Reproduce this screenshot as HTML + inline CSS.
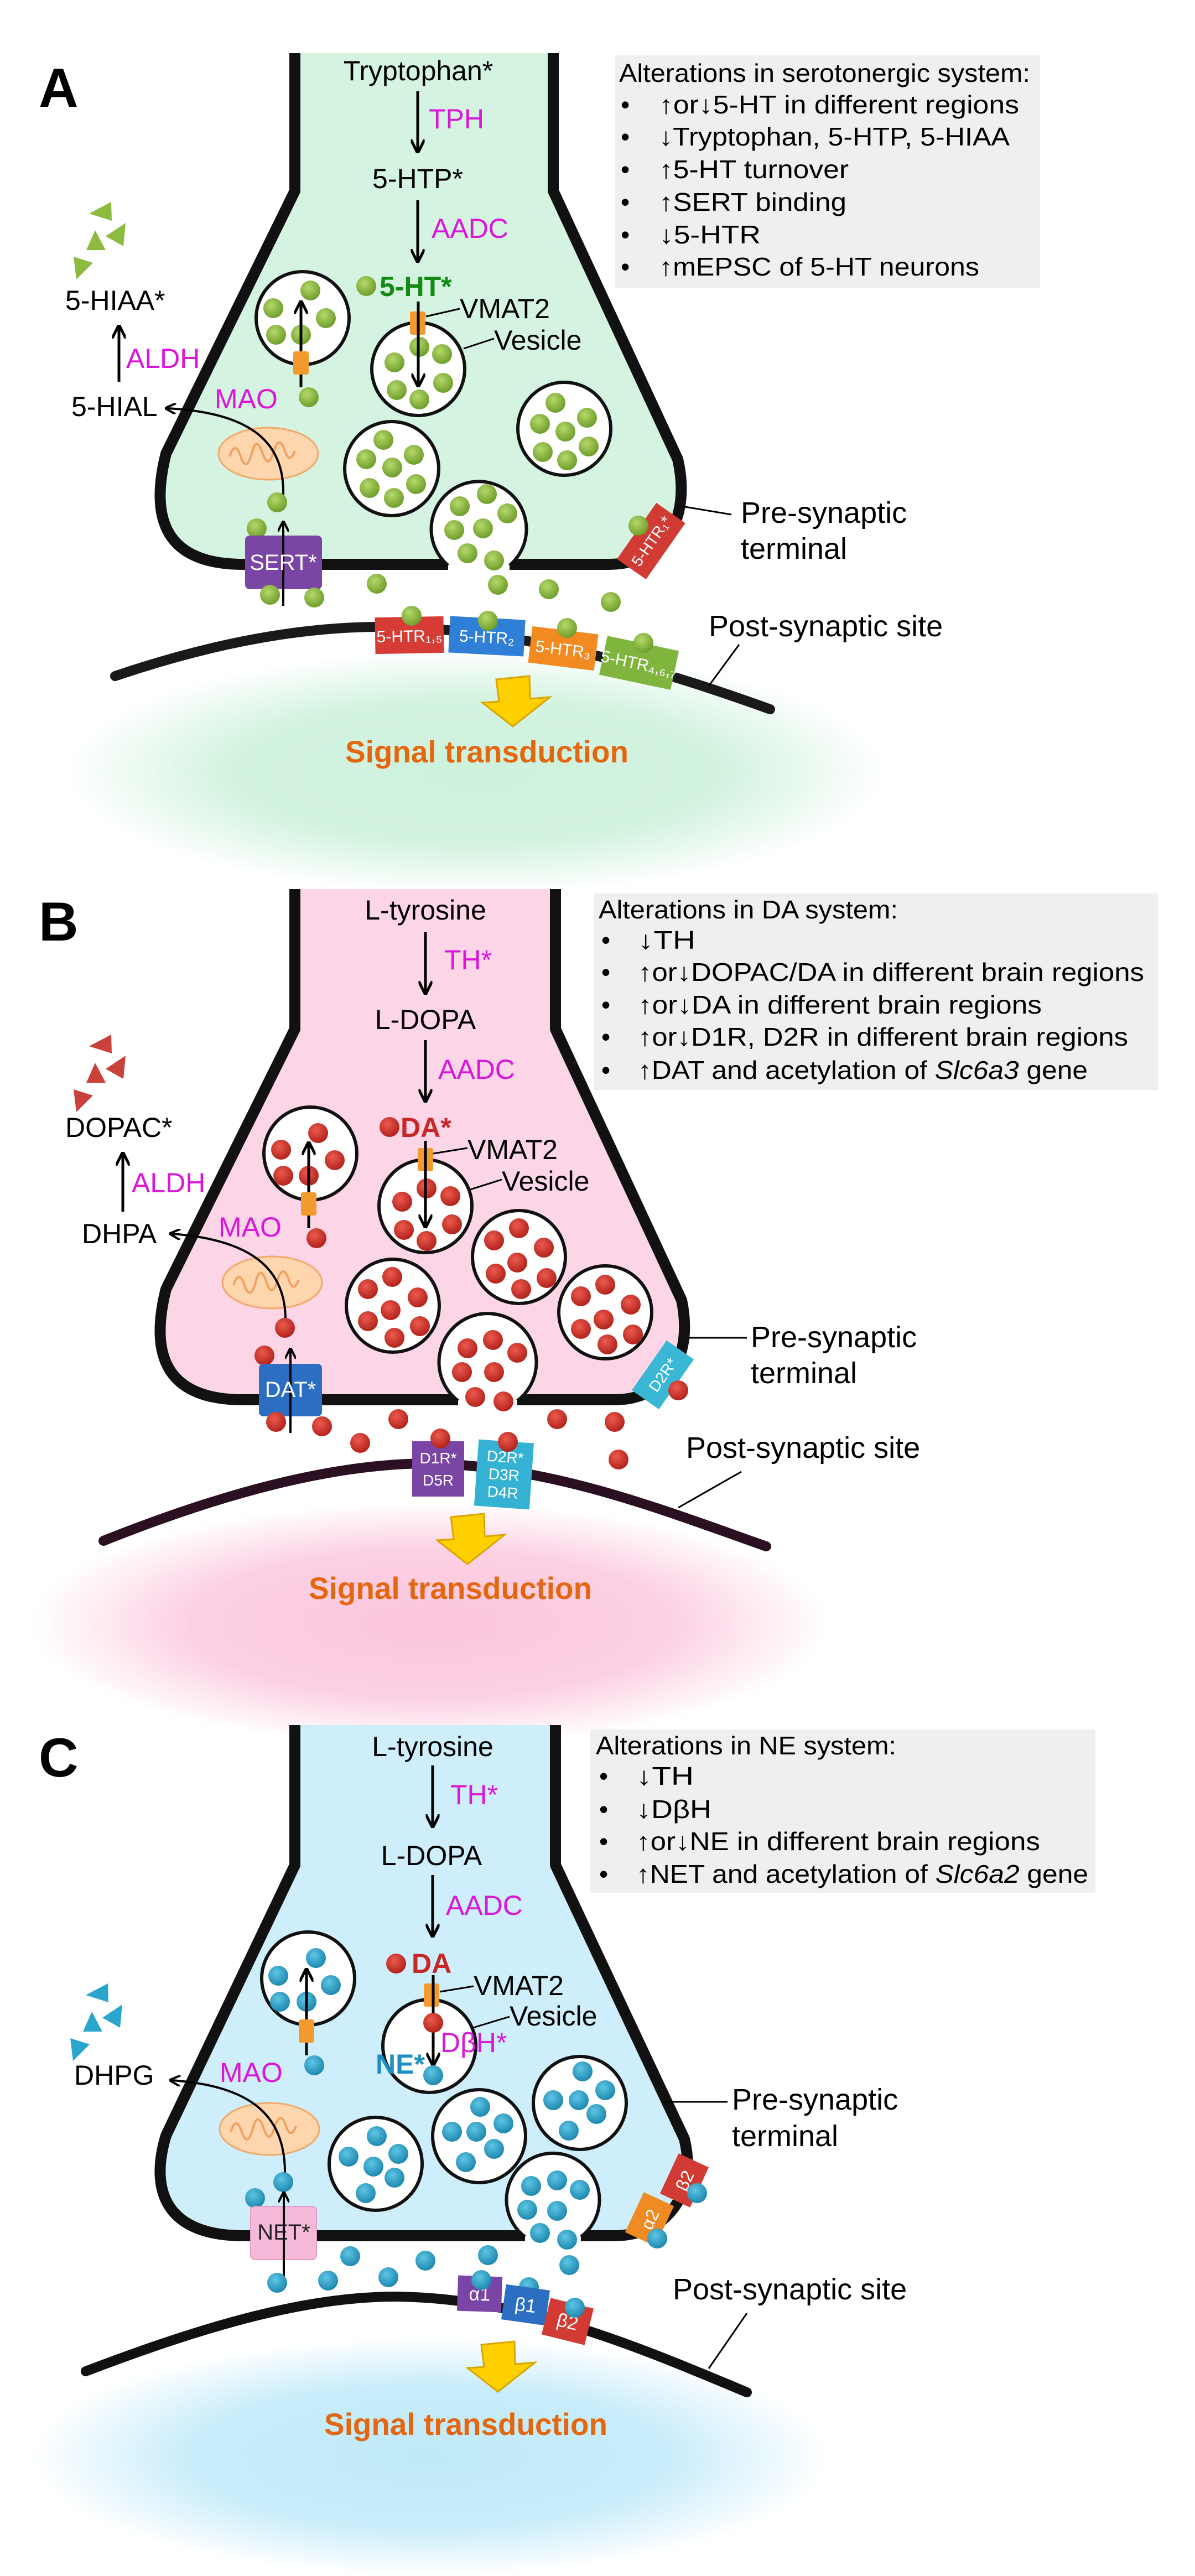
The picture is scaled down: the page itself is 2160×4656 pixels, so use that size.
<!DOCTYPE html>
<html><head><meta charset="utf-8"><style>
html,body{margin:0;padding:0;background:#fff;}
svg{display:block;}
text{font-family:"Liberation Sans",Arial,sans-serif;}
</style></head><body>
<svg width="2160" height="4656" viewBox="0 0 2160 4656" xmlns="http://www.w3.org/2000/svg">
<defs>
<radialGradient id="gd" cx="40%" cy="35%" r="65%"><stop offset="0" stop-color="#b5d96a"/><stop offset="1" stop-color="#6f9e2c"/></radialGradient>
<radialGradient id="rd" cx="40%" cy="35%" r="65%"><stop offset="0" stop-color="#ec5a4e"/><stop offset="1" stop-color="#b3231c"/></radialGradient>
<radialGradient id="bd" cx="40%" cy="35%" r="65%"><stop offset="0" stop-color="#5ec5e4"/><stop offset="1" stop-color="#1e89b0"/></radialGradient>
<radialGradient id="glowG"><stop offset="0" stop-color="#cdf1dc"/><stop offset="0.6" stop-color="#d3f3e0"/><stop offset="1" stop-color="#d3f3e0" stop-opacity="0"/></radialGradient>
<radialGradient id="glowP"><stop offset="0" stop-color="#fbc6dd"/><stop offset="0.6" stop-color="#fcd0e3"/><stop offset="1" stop-color="#fcd0e3" stop-opacity="0"/></radialGradient>
<radialGradient id="glowB"><stop offset="0" stop-color="#bfe9f8"/><stop offset="0.6" stop-color="#c9edfa"/><stop offset="1" stop-color="#c9edfa" stop-opacity="0"/></radialGradient>
<marker id="ah" viewBox="0 0 10 10" refX="8" refY="5" markerWidth="5" markerHeight="5" orient="auto-start-reverse"><path d="M0,0 L10,5 L0,10" fill="none" stroke="#000" stroke-width="2"/></marker>
<g id="g"><circle r="18" fill="url(#gd)"/></g>
<g id="r"><circle r="18" fill="url(#rd)"/></g>
<g id="b"><circle r="18" fill="url(#bd)"/></g>
<g id="mito"><ellipse rx="90" ry="47" fill="#fdd6ae" stroke="#f3a868" stroke-width="3"/><path d="M-70,5 q10,-30 20,0 q10,30 20,-5 q8,-35 20,0 q10,30 20,-5 q10,-30 20,0 q8,25 18,0" fill="none" stroke="#f0a060" stroke-width="4"/></g>
<g id="yarrow"><polygon points="25,0 85,-6 86,35 122,32 55,85 0,42 30,40" fill="#ffd000" stroke="#d9a400" stroke-width="3"/></g>
</defs>

<!-- ================= PANEL A ================= -->
<ellipse cx="860" cy="1395" rx="740" ry="220" fill="url(#glowG)"/>
<path d="M533,96 L533,345 L300,820 C270,940 300,1020 440,1020 L1100,1020 C1200,1020 1250,940 1225,830 L1000,345 L1000,96 Z" fill="#d5f3e1"/>
<path d="M533,96 L533,345 L300,820 C270,940 300,1020 440,1020 L810,1020 M921,1020 L1100,1020 C1200,1020 1250,940 1225,830 L1000,345 L1000,96" fill="none" stroke="#111" stroke-width="20" stroke-linejoin="round"/>
<text x="70" y="193" font-size="99" font-weight="bold">A</text>
<text x="756" y="145" font-size="50" text-anchor="middle">Tryptophan*</text>
<line x1="755" y1="165" x2="755" y2="272" stroke="#000" stroke-width="5" marker-end="url(#ah)"/>
<text x="775" y="232" font-size="50" fill="#d916d9">TPH</text>
<text x="755" y="340" font-size="50" text-anchor="middle">5-HTP*</text>
<line x1="755" y1="362" x2="755" y2="470" stroke="#000" stroke-width="5" marker-end="url(#ah)"/>
<text x="780" y="430" font-size="50" fill="#d916d9">AADC</text>
<use href="#g" x="662" y="517"/>
<text x="686" y="535" font-size="50" font-weight="bold" fill="#138a13">5-HT*</text>
<!-- vesicles -->
<circle cx="547" cy="575" r="84" fill="#fff" stroke="#111" stroke-width="6"/>
<circle cx="756" cy="667" r="84" fill="#fff" stroke="#111" stroke-width="6"/>
<circle cx="708" cy="847" r="85" fill="#fff" stroke="#111" stroke-width="6"/>
<circle cx="1020" cy="775" r="84" fill="#fff" stroke="#111" stroke-width="6"/>
<path d="M810,1022 A86,86 0 1 1 921,1022" fill="#fff" stroke="#111" stroke-width="6"/>
<use href="#g" x="561" y="525"/><use href="#g" x="494" y="557"/><use href="#g" x="589" y="575"/><use href="#g" x="499" y="605"/><use href="#g" x="544" y="605"/>
<line x1="544" y1="700" x2="544" y2="548" stroke="#000" stroke-width="5" marker-end="url(#ah)"/>
<rect x="530" y="635" width="28" height="42" rx="4" fill="#f39a2e"/>
<use href="#g" x="558" y="718"/>
<rect x="741" y="563" width="28" height="42" rx="4" fill="#f39a2e"/>
<use href="#g" x="758" y="627"/><use href="#g" x="713" y="655"/><use href="#g" x="799" y="640"/><use href="#g" x="717" y="705"/><use href="#g" x="758" y="722"/><use href="#g" x="801" y="692"/>
<line x1="756" y1="545" x2="756" y2="695" stroke="#000" stroke-width="5" marker-end="url(#ah)"/>
<line x1="770" y1="572" x2="831" y2="558" stroke="#000" stroke-width="3"/>
<line x1="838" y1="630" x2="893" y2="612" stroke="#000" stroke-width="3"/>
<text x="831" y="575" font-size="50">VMAT2</text>
<text x="893" y="632" font-size="50">Vesicle</text>
<use href="#g" x="693" y="795"/><use href="#g" x="662" y="830"/><use href="#g" x="748" y="822"/><use href="#g" x="709" y="845"/><use href="#g" x="668" y="882"/><use href="#g" x="752" y="875"/><use href="#g" x="712" y="900"/>
<use href="#g" x="1004" y="728"/><use href="#g" x="976" y="766"/><use href="#g" x="1061" y="755"/><use href="#g" x="1022" y="780"/><use href="#g" x="981" y="817"/><use href="#g" x="1064" y="807"/><use href="#g" x="1025" y="832"/>
<use href="#g" x="831" y="915"/><use href="#g" x="880" y="893"/><use href="#g" x="917" y="928"/><use href="#g" x="821" y="958"/><use href="#g" x="873" y="955"/><use href="#g" x="845" y="1000"/><use href="#g" x="893" y="1013"/>
<!-- left metabolism -->
<polygon points="161,386 201,365 202,399" fill="#8dbb3f"/><polygon points="156,452 172,416 191,452" fill="#8dbb3f"/><polygon points="191,427 227,403 223,445" fill="#8dbb3f"/><polygon points="133,464 168,475 138,505" fill="#8dbb3f"/>
<text x="118" y="560" font-size="50">5-HIAA*</text>
<line x1="215" y1="690" x2="215" y2="592" stroke="#000" stroke-width="5" marker-end="url(#ah)"/>
<text x="228" y="665" font-size="50" fill="#d916d9">ALDH</text>
<text x="129" y="752" font-size="50">5-HIAL</text>
<text x="388" y="738" font-size="50" fill="#d916d9">MAO</text>
<use href="#mito" x="485" y="820"/>
<path d="M512,895 C515,790 440,745 302,738" fill="none" stroke="#000" stroke-width="4" marker-end="url(#ah)"/>
<use href="#g" x="501" y="908"/><use href="#g" x="464" y="955"/>
<rect x="443" y="968" width="139" height="97" rx="8" fill="#7b45a6"/>
<line x1="512" y1="1095" x2="512" y2="945" stroke="#000" stroke-width="4" marker-end="url(#ah)"/>
<text x="512" y="1030" font-size="40" fill="#fff" text-anchor="middle">SERT*</text>
<use href="#g" x="488" y="1075"/><use href="#g" x="568" y="1080"/>
<use href="#g" x="681" y="1055"/><use href="#g" x="900" y="1057"/><use href="#g" x="992" y="1065"/><use href="#g" x="1104" y="1088"/>
<!-- presyn receptor -->
<g transform="translate(1177,978) rotate(-55)"><rect x="-62" y="-32" width="124" height="64" fill="#d13b33"/><text x="0" y="10" font-size="28" fill="#fff" text-anchor="middle">5-HTR₁*</text></g>
<use href="#g" x="1154" y="950"/>
<line x1="1232" y1="915" x2="1322" y2="930" stroke="#000" stroke-width="3"/>
<text x="1339" y="945" font-size="54">Pre-synaptic</text>
<text x="1339" y="1010" font-size="54">terminal</text>
<!-- post-synaptic -->
<path d="M208,1222 C420,1150 600,1125 760,1135 C1000,1150 1220,1220 1392,1282" fill="none" stroke="#1a1a1a" stroke-width="18" stroke-linecap="round"/>
<g transform="translate(740,1148) rotate(-1)"><rect x="-62" y="-33" width="124" height="66" fill="#d63b35"/><text x="0" y="12" font-size="30" fill="#fff" text-anchor="middle">5-HTR₁,₅</text></g>
<g transform="translate(880,1150) rotate(3)"><rect x="-68" y="-33" width="136" height="66" fill="#2f7fd6"/><text x="0" y="12" font-size="30" fill="#fff" text-anchor="middle">5-HTR₂</text></g>
<g transform="translate(1018,1172) rotate(7)"><rect x="-60" y="-33" width="120" height="66" fill="#f28a22"/><text x="0" y="12" font-size="30" fill="#fff" text-anchor="middle">5-HTR₃</text></g>
<g transform="translate(1155,1198) rotate(12)"><rect x="-66" y="-36" width="132" height="72" fill="#7fb53d"/><text x="0" y="12" font-size="30" fill="#fff" text-anchor="middle">5-HTR₄,₆,₇</text></g>
<use href="#g" x="744" y="1113"/><use href="#g" x="882" y="1122"/><use href="#g" x="1025" y="1135"/><use href="#g" x="1163" y="1162"/>
<line x1="1336" y1="1165" x2="1281" y2="1240" stroke="#000" stroke-width="3"/>
<text x="1281" y="1150" font-size="54">Post-synaptic site</text>
<use href="#yarrow" x="872" y="1228"/>
<text x="880" y="1378" font-size="56" font-weight="bold" fill="#e4670f" text-anchor="middle" textLength="512" lengthAdjust="spacingAndGlyphs">Signal transduction</text>
<!-- box A -->
<rect x="1112" y="100" width="768" height="420" fill="#efefef"/>
<text x="1119" y="148" font-size="46" textLength="743" lengthAdjust="spacingAndGlyphs">Alterations in serotonergic system:</text>
<g font-size="46">
<text x="1122" y="205">•</text><text x="1191" y="205" textLength="651" lengthAdjust="spacingAndGlyphs">↑or↓5-HT in different regions</text>
<text x="1122" y="263">•</text><text x="1191" y="263" textLength="634" lengthAdjust="spacingAndGlyphs">↓Tryptophan, 5-HTP, 5-HIAA</text>
<text x="1122" y="322">•</text><text x="1191" y="322" textLength="343" lengthAdjust="spacingAndGlyphs">↑5-HT turnover</text>
<text x="1122" y="381">•</text><text x="1191" y="381" textLength="339" lengthAdjust="spacingAndGlyphs">↑SERT binding</text>
<text x="1122" y="440">•</text><text x="1191" y="440" textLength="184" lengthAdjust="spacingAndGlyphs">↓5-HTR</text>
<text x="1122" y="498">•</text><text x="1191" y="498" textLength="579" lengthAdjust="spacingAndGlyphs">↑mEPSC of 5-HT neurons</text>
</g>

<!-- ================= PANEL B ================= -->
<ellipse cx="776" cy="2935" rx="720" ry="220" fill="url(#glowP)"/>
<path d="M533,1607 L533,1860 L300,2330 C270,2450 300,2530 440,2530 L1110,2530 C1200,2530 1255,2460 1232,2350 L1004,1860 L1004,1607 Z" fill="#fcd6e7"/>
<path d="M533,1607 L533,1860 L300,2330 C270,2450 300,2530 440,2530 L828,2530 M935,2530 L1110,2530 C1200,2530 1255,2460 1232,2350 L1004,1860 L1004,1607" fill="none" stroke="#111" stroke-width="20" stroke-linejoin="round"/>
<text x="70" y="1700" font-size="99" font-weight="bold">B</text>
<text x="769" y="1662" font-size="50" text-anchor="middle">L-tyrosine</text>
<line x1="769" y1="1685" x2="769" y2="1793" stroke="#000" stroke-width="5" marker-end="url(#ah)"/>
<text x="803" y="1752" font-size="50" fill="#d916d9">TH*</text>
<text x="769" y="1860" font-size="50" text-anchor="middle">L-DOPA</text>
<line x1="769" y1="1880" x2="769" y2="1988" stroke="#000" stroke-width="5" marker-end="url(#ah)"/>
<text x="792" y="1950" font-size="50" fill="#d916d9">AADC</text>
<use href="#r" x="704" y="2037"/>
<text x="724" y="2055" font-size="50" font-weight="bold" fill="#c62828">DA*</text>
<circle cx="561" cy="2085" r="84" fill="#fff" stroke="#111" stroke-width="6"/>
<circle cx="769" cy="2180" r="84" fill="#fff" stroke="#111" stroke-width="6"/>
<circle cx="710" cy="2360" r="84" fill="#fff" stroke="#111" stroke-width="6"/>
<circle cx="938" cy="2272" r="84" fill="#fff" stroke="#111" stroke-width="6"/>
<circle cx="1094" cy="2372" r="84" fill="#fff" stroke="#111" stroke-width="6"/>
<path d="M828,2532 A88,88 0 1 1 935,2532" fill="#fff" stroke="#111" stroke-width="6"/>
<use href="#r" x="575" y="2048"/><use href="#r" x="508" y="2078"/><use href="#r" x="605" y="2097"/><use href="#r" x="512" y="2125"/><use href="#r" x="558" y="2125"/>
<line x1="558" y1="2220" x2="558" y2="2068" stroke="#000" stroke-width="5" marker-end="url(#ah)"/>
<rect x="544" y="2155" width="28" height="42" rx="4" fill="#f39a2e"/>
<use href="#r" x="572" y="2238"/>
<rect x="755" y="2075" width="28" height="42" rx="4" fill="#f39a2e"/>
<use href="#r" x="771" y="2148"/><use href="#r" x="727" y="2172"/><use href="#r" x="814" y="2162"/><use href="#r" x="730" y="2223"/><use href="#r" x="771" y="2243"/><use href="#r" x="817" y="2213"/>
<line x1="769" y1="2062" x2="769" y2="2215" stroke="#000" stroke-width="5" marker-end="url(#ah)"/>
<line x1="783" y1="2085" x2="845" y2="2075" stroke="#000" stroke-width="3"/>
<line x1="850" y1="2150" x2="907" y2="2132" stroke="#000" stroke-width="3"/>
<text x="845" y="2095" font-size="50">VMAT2</text>
<text x="907" y="2152" font-size="50">Vesicle</text>
<use href="#r" x="709" y="2308"/><use href="#r" x="665" y="2330"/><use href="#r" x="755" y="2345"/><use href="#r" x="706" y="2368"/><use href="#r" x="665" y="2388"/><use href="#r" x="759" y="2397"/><use href="#r" x="713" y="2418"/>
<use href="#r" x="938" y="2220"/><use href="#r" x="893" y="2242"/><use href="#r" x="983" y="2255"/><use href="#r" x="935" y="2282"/><use href="#r" x="896" y="2302"/><use href="#r" x="988" y="2310"/><use href="#r" x="942" y="2330"/>
<use href="#r" x="1094" y="2322"/><use href="#r" x="1050" y="2343"/><use href="#r" x="1140" y="2358"/><use href="#r" x="1091" y="2385"/><use href="#r" x="1050" y="2402"/><use href="#r" x="1144" y="2412"/><use href="#r" x="1098" y="2430"/>
<use href="#r" x="845" y="2437"/><use href="#r" x="891" y="2422"/><use href="#r" x="935" y="2445"/><use href="#r" x="835" y="2480"/><use href="#r" x="893" y="2480"/><use href="#r" x="859" y="2525"/><use href="#r" x="910" y="2533"/>
<polygon points="161,1891 201,1870 202,1904" fill="#c9413a"/><polygon points="156,1957 172,1921 191,1957" fill="#c9413a"/><polygon points="191,1932 227,1908 223,1950" fill="#c9413a"/><polygon points="133,1969 168,1980 138,2010" fill="#c9413a"/>
<text x="118" y="2055" font-size="50">DOPAC*</text>
<line x1="222" y1="2190" x2="222" y2="2087" stroke="#000" stroke-width="5" marker-end="url(#ah)"/>
<text x="238" y="2155" font-size="50" fill="#d916d9">ALDH</text>
<text x="148" y="2247" font-size="50">DHPA</text>
<text x="395" y="2235" font-size="50" fill="#d916d9">MAO</text>
<use href="#mito" x="492" y="2318"/>
<path d="M516,2390 C518,2290 450,2240 310,2230" fill="none" stroke="#000" stroke-width="4" marker-end="url(#ah)"/>
<use href="#r" x="515" y="2400"/><use href="#r" x="478" y="2450"/>
<rect x="468" y="2465" width="114" height="95" rx="8" fill="#2c6fc2"/>
<line x1="525" y1="2590" x2="525" y2="2440" stroke="#000" stroke-width="4" marker-end="url(#ah)"/>
<text x="525" y="2525" font-size="40" fill="#fff" text-anchor="middle">DAT*</text>
<use href="#r" x="499" y="2570"/><use href="#r" x="582" y="2578"/><use href="#r" x="651" y="2608"/><use href="#r" x="720" y="2565"/><use href="#r" x="1007" y="2565"/><use href="#r" x="1111" y="2570"/><use href="#r" x="1118" y="2638"/>
<g transform="translate(1198,2485) rotate(-55)"><rect x="-55" y="-30" width="110" height="60" fill="#3bb7d6"/><text x="0" y="10" font-size="28" fill="#fff" text-anchor="middle">D2R*</text></g>
<use href="#r" x="1226" y="2513"/>
<line x1="1242" y1="2418" x2="1350" y2="2418" stroke="#000" stroke-width="3"/>
<text x="1357" y="2435" font-size="54">Pre-synaptic</text>
<text x="1357" y="2500" font-size="54">terminal</text>
<path d="M187,2785 C400,2700 600,2645 776,2645 C1000,2650 1200,2730 1385,2795" fill="none" stroke="#2a1020" stroke-width="18" stroke-linecap="round"/>
<rect x="745" y="2605" width="94" height="100" fill="#7b45a6"/>
<text x="792" y="2645" font-size="28" fill="#fff" text-anchor="middle">D1R*</text><text x="792" y="2685" font-size="28" fill="#fff" text-anchor="middle">D5R</text>
<g transform="translate(911,2665) rotate(4)"><rect x="-50" y="-60" width="100" height="120" fill="#35b2d3"/><text x="0" y="-22" font-size="28" fill="#fff" text-anchor="middle">D2R*</text><text x="0" y="10" font-size="28" fill="#fff" text-anchor="middle">D3R</text><text x="0" y="42" font-size="28" fill="#fff" text-anchor="middle">D4R</text></g>
<use href="#r" x="796" y="2600"/><use href="#r" x="918" y="2606"/>
<line x1="1340" y1="2660" x2="1226" y2="2725" stroke="#000" stroke-width="3"/>
<text x="1240" y="2635" font-size="54">Post-synaptic site</text>
<use href="#yarrow" x="790" y="2742"/>
<text x="814" y="2890" font-size="56" font-weight="bold" fill="#e4670f" text-anchor="middle" textLength="512" lengthAdjust="spacingAndGlyphs">Signal transduction</text>
<rect x="1073" y="1615" width="1021" height="355" fill="#efefef"/>
<text x="1082" y="1660" font-size="46" textLength="541" lengthAdjust="spacingAndGlyphs">Alterations in DA system:</text>
<g font-size="46">
<text x="1087" y="1715">•</text><text x="1153" y="1715" textLength="104" lengthAdjust="spacingAndGlyphs">↓TH</text>
<text x="1087" y="1773">•</text><text x="1153" y="1773" textLength="915" lengthAdjust="spacingAndGlyphs">↑or↓DOPAC/DA in different brain regions</text>
<text x="1087" y="1832">•</text><text x="1153" y="1832" textLength="730" lengthAdjust="spacingAndGlyphs">↑or↓DA in different brain regions</text>
<text x="1087" y="1890">•</text><text x="1153" y="1890" textLength="886" lengthAdjust="spacingAndGlyphs">↑or↓D1R, D2R in different brain regions</text>
<text x="1087" y="1950">•</text><text x="1153" y="1950" textLength="813" lengthAdjust="spacingAndGlyphs">↑DAT and acetylation of <tspan font-style="italic">Slc6a3</tspan> gene</text>
</g>

<!-- ================= PANEL C ================= -->
<ellipse cx="776" cy="4440" rx="720" ry="215" fill="url(#glowB)"/>
<path d="M533,3118 L533,3371 L300,3860 C270,3960 300,4041 440,4041 L1110,4041 C1200,4041 1262,3970 1237,3866 L1004,3371 L1004,3118 Z" fill="#cdeefa"/>
<path d="M533,3118 L533,3371 L300,3860 C270,3960 300,4041 440,4041 L949,4041 M1050,4041 L1110,4041 C1200,4041 1262,3970 1237,3866 L1004,3371 L1004,3118" fill="none" stroke="#111" stroke-width="20" stroke-linejoin="round"/>
<text x="70" y="3211" font-size="99" font-weight="bold">C</text>
<text x="782" y="3174" font-size="50" text-anchor="middle">L-tyrosine</text>
<line x1="782" y1="3191" x2="782" y2="3299" stroke="#000" stroke-width="5" marker-end="url(#ah)"/>
<text x="814" y="3261" font-size="50" fill="#d916d9">TH*</text>
<text x="780" y="3371" font-size="50" text-anchor="middle">L-DOPA</text>
<line x1="782" y1="3389" x2="782" y2="3497" stroke="#000" stroke-width="5" marker-end="url(#ah)"/>
<text x="806" y="3461" font-size="50" fill="#d916d9">AADC</text>
<use href="#r" x="716" y="3549"/>
<text x="744" y="3566" font-size="50" font-weight="bold" fill="#c62828">DA</text>
<circle cx="557" cy="3576" r="84" fill="#fff" stroke="#111" stroke-width="6"/>
<circle cx="776" cy="3698" r="84" fill="#fff" stroke="#111" stroke-width="6"/>
<circle cx="679" cy="3911" r="84" fill="#fff" stroke="#111" stroke-width="6"/>
<circle cx="866" cy="3861" r="84" fill="#fff" stroke="#111" stroke-width="6"/>
<circle cx="1048" cy="3801" r="84" fill="#fff" stroke="#111" stroke-width="6"/>
<path d="M949,4043 A84,84 0 1 1 1050,4043" fill="#fff" stroke="#111" stroke-width="6"/>
<use href="#b" x="571" y="3539"/><use href="#b" x="503" y="3571"/><use href="#b" x="598" y="3588"/><use href="#b" x="506" y="3618"/><use href="#b" x="554" y="3618"/>
<line x1="554" y1="3715" x2="554" y2="3562" stroke="#000" stroke-width="5" marker-end="url(#ah)"/>
<rect x="540" y="3650" width="28" height="42" rx="4" fill="#f39a2e"/>
<use href="#b" x="568" y="3733"/>
<rect x="766" y="3585" width="28" height="42" rx="4" fill="#f39a2e"/>
<line x1="783" y1="3570" x2="783" y2="3730" stroke="#000" stroke-width="5" marker-end="url(#ah)"/>
<use href="#r" x="783" y="3656"/><use href="#b" x="783" y="3751"/>
<line x1="795" y1="3600" x2="856" y2="3590" stroke="#000" stroke-width="3"/>
<line x1="855" y1="3665" x2="921" y2="3645" stroke="#000" stroke-width="3"/>
<text x="856" y="3606" font-size="50">VMAT2</text>
<text x="921" y="3661" font-size="50">Vesicle</text>
<text x="796" y="3709" font-size="50" fill="#d916d9">DβH*</text>
<text x="679" y="3748" font-size="50" font-weight="bold" fill="#1d8fc0">NE*</text>
<use href="#b" x="681" y="3861"/><use href="#b" x="630" y="3898"/><use href="#b" x="720" y="3893"/><use href="#b" x="675" y="3916"/><use href="#b" x="713" y="3936"/><use href="#b" x="661" y="3964"/>
<use href="#b" x="868" y="3808"/><use href="#b" x="817" y="3853"/><use href="#b" x="861" y="3853"/><use href="#b" x="910" y="3838"/><use href="#b" x="893" y="3884"/><use href="#b" x="842" y="3908"/>
<use href="#b" x="1053" y="3744"/><use href="#b" x="1000" y="3796"/><use href="#b" x="1046" y="3796"/><use href="#b" x="1094" y="3778"/><use href="#b" x="1078" y="3821"/><use href="#b" x="1028" y="3851"/>
<use href="#b" x="960" y="3951"/><use href="#b" x="1007" y="3941"/><use href="#b" x="1048" y="3958"/><use href="#b" x="953" y="3994"/><use href="#b" x="1007" y="3996"/><use href="#b" x="976" y="4036"/><use href="#b" x="1025" y="4048"/>
<polygon points="155,3606 195,3585 196,3619" fill="#2aa6cc"/><polygon points="150,3672 166,3636 185,3672" fill="#2aa6cc"/><polygon points="185,3647 221,3623 217,3665" fill="#2aa6cc"/><polygon points="127,3684 162,3695 132,3725" fill="#2aa6cc"/>
<text x="134" y="3768" font-size="50">DHPG</text>
<text x="397" y="3763" font-size="50" fill="#d916d9">MAO</text>
<use href="#mito" x="487" y="3848"/>
<path d="M515,3935 C518,3820 450,3770 310,3760" fill="none" stroke="#000" stroke-width="4" marker-end="url(#ah)"/>
<use href="#b" x="512" y="3944"/><use href="#b" x="461" y="3973"/>
<rect x="453" y="3988" width="119" height="96" rx="8" fill="#f6b9d9" stroke="#e59cc4" stroke-width="2"/>
<line x1="513" y1="4115" x2="513" y2="3965" stroke="#000" stroke-width="4" marker-end="url(#ah)"/>
<text x="513" y="4048" font-size="40" fill="#222" text-anchor="middle">NET*</text>
<use href="#b" x="501" y="4126"/><use href="#b" x="593" y="4122"/><use href="#b" x="633" y="4078"/><use href="#b" x="702" y="4116"/><use href="#b" x="769" y="4086"/><use href="#b" x="882" y="4076"/><use href="#b" x="1029" y="4094"/><use href="#b" x="956" y="4134"/>
<g transform="translate(1174,4011) rotate(-65)"><rect x="-40" y="-30" width="80" height="60" fill="#f08a22"/><text x="0" y="12" font-size="32" fill="#fff" text-anchor="middle">α2</text></g>
<g transform="translate(1237,3941) rotate(-65)"><rect x="-40" y="-30" width="80" height="60" fill="#d13b33"/><text x="0" y="12" font-size="32" fill="#fff" text-anchor="middle">β2</text></g>
<use href="#b" x="1188" y="4046"/><use href="#b" x="1260" y="3964"/>
<line x1="1198" y1="3799" x2="1315" y2="3799" stroke="#000" stroke-width="3"/>
<text x="1323" y="3813" font-size="54">Pre-synaptic</text>
<text x="1323" y="3879" font-size="54">terminal</text>
<path d="M155,4286 C380,4200 560,4150 720,4151 C950,4155 1150,4240 1350,4324" fill="none" stroke="#111" stroke-width="18" stroke-linecap="round"/>
<g transform="translate(867,4146) rotate(2)"><rect x="-40" y="-32" width="80" height="64" fill="#7b45a6"/><text x="0" y="12" font-size="34" fill="#fff" text-anchor="middle">α1</text></g>
<g transform="translate(950,4166) rotate(8)"><rect x="-40" y="-32" width="80" height="64" fill="#2c6fc2"/><text x="0" y="12" font-size="34" fill="#fff" text-anchor="middle">β1</text></g>
<g transform="translate(1026,4196) rotate(14)"><rect x="-40" y="-34" width="80" height="68" fill="#d13b33"/><text x="0" y="12" font-size="34" fill="#fff" text-anchor="middle">β2</text></g>
<use href="#b" x="870" y="4121"/><use href="#b" x="1039" y="4171"/>
<line x1="1350" y1="4181" x2="1281" y2="4281" stroke="#000" stroke-width="3"/>
<text x="1216" y="4156" font-size="54">Post-synaptic site</text>
<use href="#yarrow" x="845" y="4238"/>
<text x="842" y="4401" font-size="56" font-weight="bold" fill="#e4670f" text-anchor="middle" textLength="512" lengthAdjust="spacingAndGlyphs">Signal transduction</text>
<rect x="1066" y="3126" width="914" height="295" fill="#efefef"/>
<text x="1077" y="3171" font-size="46" textLength="543" lengthAdjust="spacingAndGlyphs">Alterations in NE system:</text>
<g font-size="46">
<text x="1083" y="3226">•</text><text x="1150" y="3226" textLength="104" lengthAdjust="spacingAndGlyphs">↓TH</text>
<text x="1083" y="3286">•</text><text x="1150" y="3286" textLength="136" lengthAdjust="spacingAndGlyphs">↓DβH</text>
<text x="1083" y="3344">•</text><text x="1150" y="3344" textLength="730" lengthAdjust="spacingAndGlyphs">↑or↓NE in different brain regions</text>
<text x="1083" y="3403">•</text><text x="1150" y="3403" textLength="817" lengthAdjust="spacingAndGlyphs">↑NET and acetylation of <tspan font-style="italic">Slc6a2</tspan> gene</text>
</g>
</svg>
</body></html>
